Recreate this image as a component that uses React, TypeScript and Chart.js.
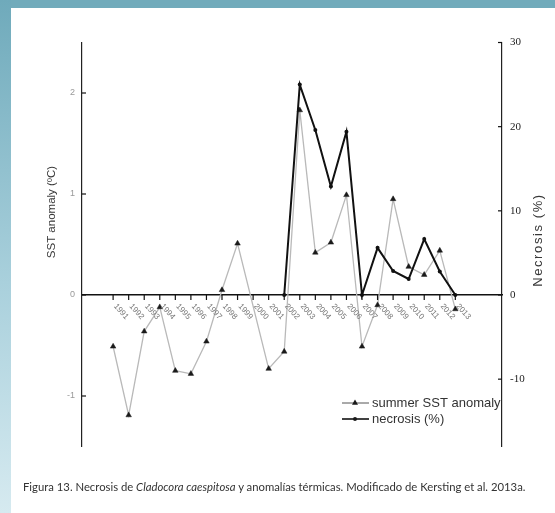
import React, { useEffect, useRef } from 'react';
import { Chart, registerables } from 'chart.js';

Chart.register(...registerables);

const years = [
  1991, 1992, 1993, 1994, 1995, 1996, 1997, 1998, 1999, 2000, 2001, 2002,
  2003, 2004, 2005, 2006, 2007, 2008, 2009, 2010, 2011, 2012, 2013,
];
// summer SST anomaly (ºC), left axis. 2000 has no value in the figure.
const sstAnomaly = [
  -0.51, -1.19, -0.36, -0.12, -0.75, -0.78, -0.46, 0.05, 0.51, null, -0.73, -0.56,
  1.83, 0.42, 0.52, 0.99, -0.51, -0.1, 0.95, 0.28, 0.2, 0.44, -0.14,
];
// necrosis (%), right axis, only recorded from 2002
const necrosis = [
  null, null, null, null, null, null, null, null, null, null, null, 0,
  25, 19.6, 12.9, 19.4, 0, 5.6, 2.85, 1.9, 6.65, 2.8, 0,
];
const sstTicks = [-1, 0, 1, 2];
const necrosisTicks = [-10, 0, 10, 20, 30];
const legendLabels = ['summer SST anomaly', 'necrosis (%)'];

const extras = {
  id: 'extras',
  afterDraw(chart: any) {
    const { ctx, scales } = chart;
    const x = scales.x;
    const y = scales.y;
    const y1 = scales.y1;
    const zeroY = y.getPixelForValue(0);

    ctx.save();
    ctx.strokeStyle = '#111';
    ctx.lineWidth = 1.2;
    // year ticks hanging under the zero line
    years.forEach((yr) => {
      const px = x.getPixelForValue(yr);
      ctx.beginPath();
      ctx.moveTo(px, zeroY);
      ctx.lineTo(px, zeroY + 5);
      ctx.stroke();
    });
    // inward ticks on both vertical axes
    sstTicks.forEach((v) => {
      const py = y.getPixelForValue(v);
      ctx.beginPath();
      ctx.moveTo(y.right, py);
      ctx.lineTo(y.right + 4, py);
      ctx.stroke();
    });
    necrosisTicks.forEach((v) => {
      const py = y1.getPixelForValue(v);
      ctx.beginPath();
      ctx.moveTo(y1.left - 4, py);
      ctx.lineTo(y1.left, py);
      ctx.stroke();
    });

    // rotated year labels
    ctx.fillStyle = '#777';
    ctx.font = '8px "Liberation Sans"';
    ctx.textAlign = 'left';
    ctx.textBaseline = 'middle';
    years.forEach((yr) => {
      const px = x.getPixelForValue(yr);
      ctx.save();
      ctx.translate(px + 2, zeroY + 10);
      ctx.rotate((48 * Math.PI) / 180);
      ctx.fillText(String(yr), 0, 0);
      ctx.restore();
    });

    // axis titles
    ctx.fillStyle = '#383838';
    ctx.textAlign = 'center';
    ctx.save();
    ctx.translate(52, 212);
    ctx.rotate(-Math.PI / 2);
    ctx.font = '11.5px "Liberation Sans"';
    ctx.fillText('SST anomaly (ºC)', 0, 0);
    ctx.restore();
    ctx.save();
    ctx.translate(538, 240);
    ctx.rotate(-Math.PI / 2);
    ctx.font = '13px "Liberation Sans"';
    (ctx as any).letterSpacing = '1.6px';
    ctx.fillText('Necrosis (%)', 0, 0);
    ctx.restore();

    // legend in the lower right corner
    const lx0 = 342;
    const lx1 = 369;
    const rows = [403, 419];
    ctx.textAlign = 'left';
    ctx.font = '13px "Liberation Sans"';
    rows.forEach((ly, i) => {
      ctx.strokeStyle = i === 0 ? '#555' : '#111';
      ctx.lineWidth = i === 0 ? 1 : 1.6;
      ctx.beginPath();
      ctx.moveTo(lx0, ly);
      ctx.lineTo(lx1, ly);
      ctx.stroke();
      ctx.fillStyle = '#1a1a1a';
      ctx.beginPath();
      if (i === 0) {
        ctx.moveTo(355, ly - 3.5);
        ctx.lineTo(358, ly + 1.8);
        ctx.lineTo(352, ly + 1.8);
        ctx.closePath();
      } else {
        ctx.arc(355, ly, 2, 0, Math.PI * 2);
      }
      ctx.fill();
      ctx.fillStyle = '#333';
      ctx.fillText(legendLabels[i], 372, ly);
    });
    ctx.restore();
  },
};

const App: React.FC = () => {
  const canvasRef = useRef<HTMLCanvasElement>(null);

  useEffect(() => {
    if (!canvasRef.current) return;
    const chart = new Chart(canvasRef.current, {
      type: 'line',
      data: {
        datasets: [
          {
            label: legendLabels[1],
            data: years.map((yr, i) => ({ x: yr, y: necrosis[i] })) as any,
            yAxisID: 'y1',
            borderColor: '#111',
            borderWidth: 2,
            pointStyle: 'circle',
            pointRadius: 2,
            pointBackgroundColor: '#111',
            pointBorderColor: '#111',
            pointBorderWidth: 0,
            tension: 0,
          },
          {
            label: legendLabels[0],
            data: years.map((yr, i) => ({ x: yr, y: sstAnomaly[i] })) as any,
            yAxisID: 'y',
            borderColor: '#b9b9b9',
            borderWidth: 1.3,
            pointStyle: 'triangle',
            pointRadius: 3.2,
            pointBackgroundColor: '#1a1a1a',
            pointBorderColor: '#1a1a1a',
            pointBorderWidth: 0.5,
            spanGaps: true,
            tension: 0,
          },
        ],
      },
      options: {
        animation: false,
        responsive: false,
        // each y scale is fixed at 40px wide, so the plot runs from x=82 to x=502
        layout: { padding: { left: 42, right: 13, top: 42.5, bottom: 66.5 } },
        plugins: { legend: { display: false }, tooltip: { enabled: false } },
        scales: {
          x: {
            type: 'linear',
            min: 1989,
            max: 2016,
            position: { y: 0 } as any,
            afterBuildTicks: (s: any) => {
              s.ticks = years.map((v) => ({ value: v }));
            },
            ticks: { display: false },
            grid: { display: false, drawTicks: false },
            border: { color: '#111', width: 1.6 },
          },
          y: {
            position: 'left',
            min: -1.5,
            max: 2.5,
            afterBuildTicks: (s: any) => {
              s.ticks = sstTicks.map((v) => ({ value: v }));
            },
            afterFit: (s: any) => {
              s.width = 40;
            },
            grid: { display: false, drawTicks: false },
            border: { color: '#222', width: 1.2 },
            ticks: { padding: 7, color: '#999', font: { size: 9, family: 'Liberation Sans' } },
          },
          y1: {
            position: 'right',
            min: -18,
            max: 30,
            afterBuildTicks: (s: any) => {
              s.ticks = necrosisTicks.map((v) => ({ value: v }));
            },
            afterFit: (s: any) => {
              s.width = 40;
            },
            grid: { display: false, drawTicks: false },
            border: { color: '#222', width: 1.2 },
            ticks: { padding: 8, color: '#222', font: { size: 11, family: 'Liberation Sans Narrow' } },
          },
        },
      },
      plugins: [extras],
    });
    return () => chart.destroy();
  }, []);

  return (
    <div style={{ position: 'fixed', left: 0, top: 0, width: 555, height: 513, background: '#fff', overflow: 'hidden' }}>
      <div style={{ position: 'absolute', left: 0, top: 0, width: 555, height: 8, background: '#71abbb' }} />
      <div
        style={{
          position: 'absolute',
          left: 0,
          top: 0,
          width: 11,
          height: 513,
          background: 'linear-gradient(to bottom, #6faabb 0%, #a9d0dc 55%, #d6eaf0 100%)',
        }}
      />
      <canvas ref={canvasRef} width={555} height={513} style={{ position: 'absolute', left: 0, top: 0 }} />
      <div
        style={{
          position: 'absolute',
          left: 23,
          top: 480,
          fontFamily: 'Lato',
          fontSize: 11.3,
          lineHeight: '14px',
          color: '#333',
          whiteSpace: 'nowrap',
        }}
      >
        Figura 13. Necrosis de <i>Cladocora caespitosa</i> y anomalías térmicas. Modificado de Kersting et al. 2013a.
      </div>
    </div>
  );
};

export default App;
